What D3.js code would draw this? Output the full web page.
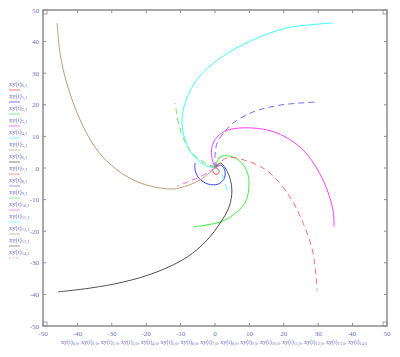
<!DOCTYPE html>
<html>
<head>
<meta charset="utf-8">
<script src="https://cdn.jsdelivr.net/npm/d3@7"></script>
<style>
  body { margin: 0; background: #fff; }
  svg { display: block; }
</style>
</head>
<body>
<div id="chart"></div>
<script>
// tick values on both axes
const ticks = [-50, -40, -30, -20, -10, 0, 10, 20, 30, 40, 50];

// traces xy(t)_i, each as [x, y] pairs
const trace0 = [[0, 0], [0.8, -0.2], [1.2, -0.9], [1, -1.7], [0.3, -2], [-0.4, -1.6], [-0.6, -0.8]];
const trace1 = [[0, 0], [1.7, 0.9], [2.9, -0.9], [2.6, -3.5], [0.9, -5.1], [-2, -5.1], [-4.7, -3.2], [-5.8, -0.6], [-5.8, 1.6]];
const trace2 = [[0, 0], [1.5, 3.5], [5.2, 3.5], [8.7, 0.3], [9.9, -4.7], [8.7, -11.1], [4.4, -15.5], [1.5, -17.1], [-2.3, -18], [-6.4, -18.7]];
const trace3 = [[0, 0], [-0.9, 3.2], [-0.9, 6.6], [0.6, 9.8], [3.8, 12], [10.2, 12.7], [18, 11.1], [25.6, 5.7], [31.4, -3.8], [34.3, -13.3], [34.6, -18.7]];
const trace4 = [[0, 0], [-2.9, 0.9], [-6.4, 4.1], [-8.7, 8.9], [-9.6, 15.2], [-8.4, 21.5], [-4.9, 28.5], [1.5, 34.8], [11, 40.5], [20.9, 44.3], [34.3, 45.9]];
const trace5 = [[0, 0], [-4.4, -3.8], [-10.2, -6.3], [-14, -6.6], [-21.8, -4.7], [-28.5, -0.6], [-34.3, 5.7], [-39.2, 15.2], [-43, 26.5], [-45, 36], [-45.9, 45.9]];
const trace6 = [[0, 0], [1.5, 1.6], [3.8, -1.6], [4.9, -7], [4.1, -12.3], [1.5, -17.4], [-2.3, -22.8], [-8.1, -28.2], [-16.9, -32.9], [-26.7, -36.1], [-36.3, -38], [-45.6, -39.2]];
const trace7 = [[0, 0], [3.5, 3.2], [10.2, 1.9], [16, -1.6], [21.8, -9.2], [25.6, -17.4], [28.5, -26.9], [29.7, -38.9]];
const trace8 = [[0, 0], [0, 4.1], [0.6, 7.9], [2, 10.4], [5.2, 14.2], [11, 17.7], [18.9, 19.9], [29.7, 20.9]];
const trace9 = [[0, 0], [-2.9, 1.6], [-6.7, 4.7], [-9, 8.9], [-10.5, 13.6], [-11.3, 18.4], [-11.6, 20.6]];
const trace10 = [[0, 0], [-2.3, -1.6], [-5.2, -3.2], [-7.8, -4.4], [-11, -5.7]];
const trace11 = [[0, 0], [2, -2], [3, -5], [3.5, -7.3]];
const trace12 = [[0, 0], [-1, 0.8], [-1.8, 0.2], [-1.6, -0.8]];
const trace13 = [[0, 0], [0.6, 0.9], [-0.5, 1.2], [-1, 0.4]];
const trace14 = [[0, 0], [0.8, 0.5], [1, 1.3]];

const traces = [trace0, trace1, trace2, trace3, trace4, trace5, trace6, trace7,
  trace8, trace9, trace10, trace11, trace12, trace13, trace14];

// styles per trace
const colors = ['#ff4040', '#4040ff', '#40ee40', '#ff40ff', '#40ffff', '#c49a78', '#505050',
  '#ff7070', '#7070ff', '#60ee60', '#ff60ff', '#50ffff', '#c49a78', '#707070', '#ff7070'];
const dashes = [null, null, null, null, null, null, null,
  '6,4', '6,4', '6,4', '6,4', '6,4', '6,4', '6,4', '1.5,2'];

const width = 400, height = 357;
const labelColor = '#7070c0';
const font = 'Liberation Serif';

const svg = d3.select('#chart').append('svg')
  .attr('width', width).attr('height', height);

const x = d3.scaleLinear().domain([-50, 50]).range([43, 387]);
const y = d3.scaleLinear().domain([-50, 50]).range([326, 10]);

// frame
svg.append('rect')
  .attr('x', x(-50)).attr('y', y(50))
  .attr('width', x(50) - x(-50)).attr('height', y(-50) - y(50))
  .attr('fill', 'none').attr('stroke', '#8c8c8c').attr('stroke-width', 1.5);

// inward ticks on all four sides
const tickLen = 3;
ticks.slice(1, -1).forEach(t => {
  svg.append('line').attr('x1', x(t)).attr('x2', x(t)).attr('y1', y(-50)).attr('y2', y(-50) - tickLen)
    .attr('stroke', '#8c8c8c');
  svg.append('line').attr('x1', x(t)).attr('x2', x(t)).attr('y1', y(50)).attr('y2', y(50) + tickLen)
    .attr('stroke', '#8c8c8c');
  svg.append('line').attr('y1', y(t)).attr('y2', y(t)).attr('x1', x(-50)).attr('x2', x(-50) + tickLen)
    .attr('stroke', '#8c8c8c');
  svg.append('line').attr('y1', y(t)).attr('y2', y(t)).attr('x1', x(50)).attr('x2', x(50) - tickLen)
    .attr('stroke', '#8c8c8c');
});

// small corner markers
[[x(-50), y(50), 1, 1], [x(50), y(50), -1, 1], [x(-50), y(-50), 1, -1], [x(50), y(-50), -1, -1]].forEach(([cx, cy, sx, sy]) => {
  svg.append('rect')
    .attr('x', sx > 0 ? cx : cx - 4).attr('y', sy > 0 ? cy : cy - 4)
    .attr('width', 4).attr('height', 4)
    .attr('fill', 'none').attr('stroke', '#8c8c8c').attr('stroke-width', 0.8);
});

// tick labels
svg.append('g').selectAll('text').data(ticks).join('text')
  .attr('x', d => x(d)).attr('y', y(-50) + 10)
  .attr('text-anchor', 'middle')
  .style('font-family', font).style('font-size', '7px')
  .attr('fill', labelColor)
  .text(d => d);

svg.append('g').selectAll('text').data(ticks).join('text')
  .attr('x', x(-50) - 4).attr('y', d => y(d) + 2.5)
  .attr('text-anchor', 'end')
  .style('font-family', font).style('font-size', '7px')
  .attr('fill', labelColor)
  .text(d => d);

// traces
const line = d3.line()
  .x(d => x(d[0])).y(d => y(d[1]))
  .curve(d3.curveCatmullRom.alpha(0.5));

const plot = svg.append('g');
traces.forEach((tr, i) => {
  plot.append('path')
    .datum(tr)
    .attr('d', line)
    .attr('fill', 'none')
    .attr('stroke', colors[i])
    .attr('stroke-width', 1)
    .attr('stroke-dasharray', dashes[i]);
});

// y axis legend on the left
const legend = svg.append('g');
traces.forEach((tr, i) => {
  const t = legend.append('text')
    .attr('x', 9).attr('y', 86 + i * 12)
    .style('font-family', font).style('font-size', '6.5px')
    .attr('fill', labelColor);
  t.append('tspan').text('xy(t)');
  t.append('tspan').attr('dy', 1.2).style('font-size', '4.5px').text(i + ',1');
  legend.append('line')
    .attr('x1', 9).attr('x2', 20)
    .attr('y1', 90 + i * 12).attr('y2', 90 + i * 12)
    .attr('stroke', colors[i])
    .attr('stroke-width', 1)
    .attr('stroke-opacity', 0.7)
    .attr('stroke-dasharray', i === 14 ? dashes[i] : null);
});

// x axis title
const xt = svg.append('text')
  .attr('x', 61).attr('y', 344)
  .style('font-family', font).style('font-size', '6px')
  .attr('fill', labelColor);
traces.forEach((tr, i) => {
  xt.append('tspan').attr('dy', i === 0 ? 0 : -1.2).text((i === 0 ? '' : ', ') + 'xy(t)');
  xt.append('tspan').attr('dy', 1.2).style('font-size', '4.2px').text(i + ',0');
});
const w = xt.node().getComputedTextLength();
if (w > 311) xt.attr('textLength', 311).attr('lengthAdjust', 'spacingAndGlyphs');
</script>
</body>
</html>
